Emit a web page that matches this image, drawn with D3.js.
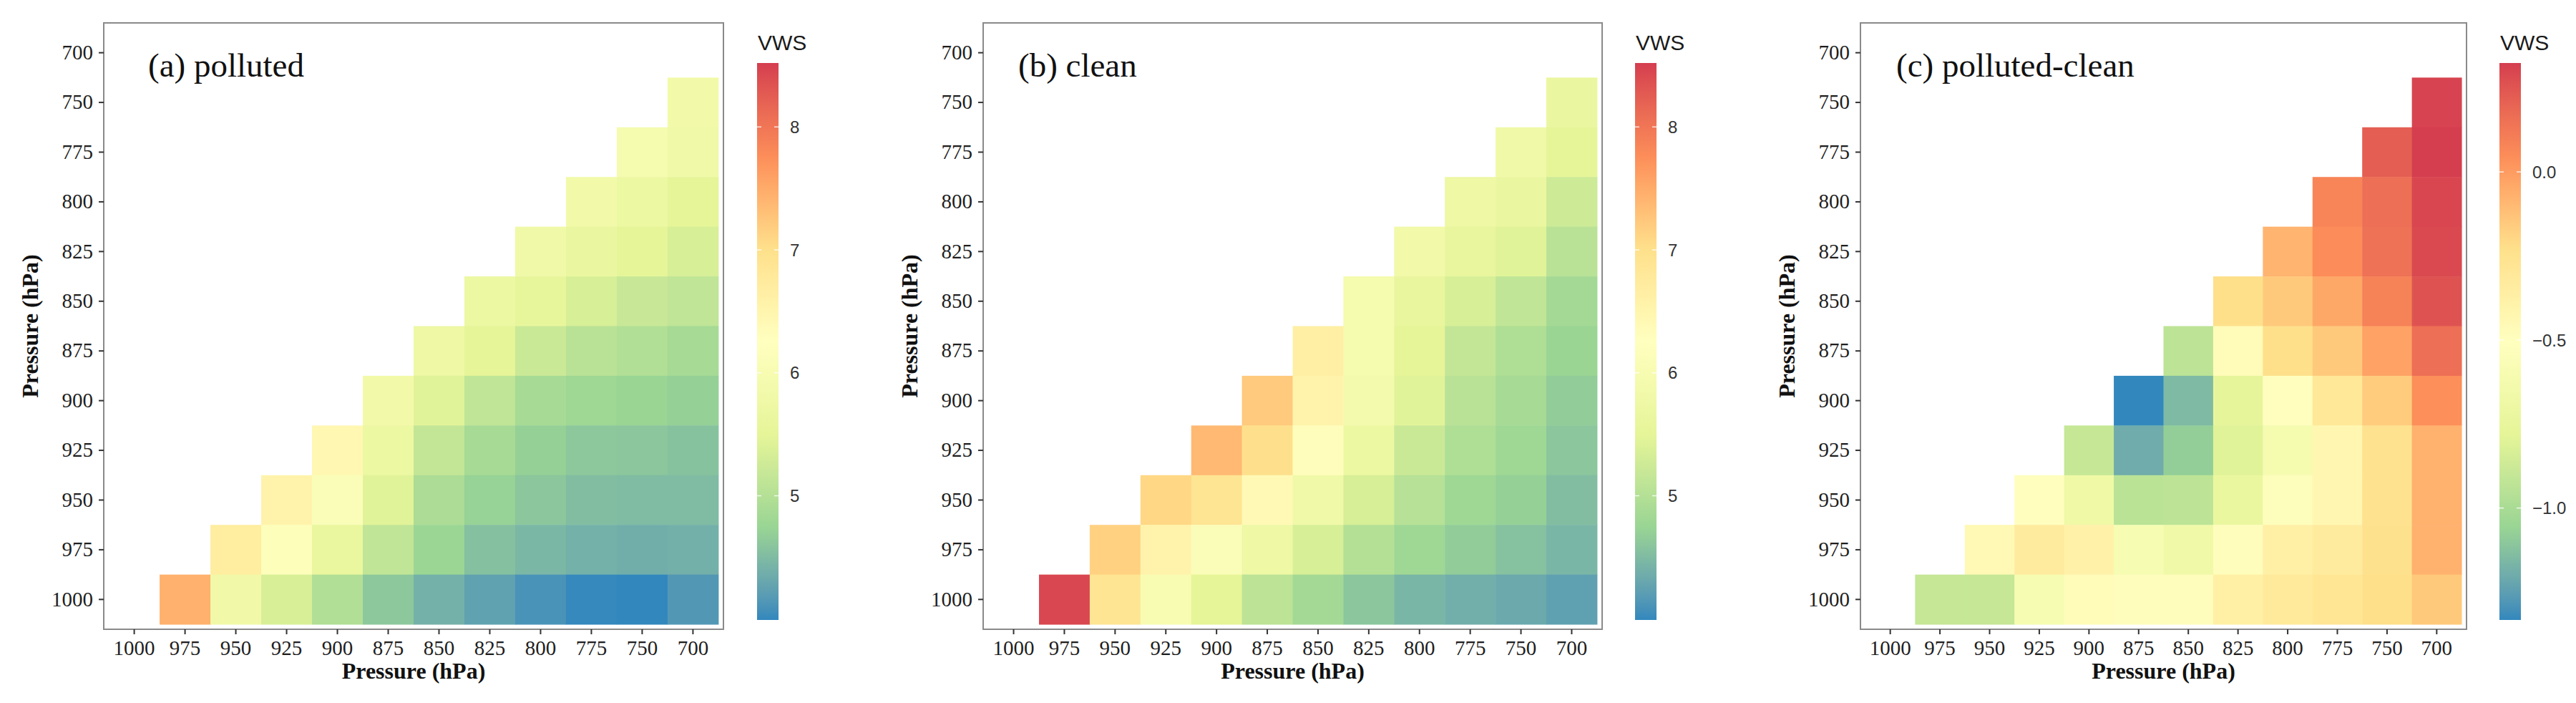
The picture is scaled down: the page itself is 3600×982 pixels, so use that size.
<!DOCTYPE html>
<html>
<head>
<meta charset="utf-8">
<script src="https://cdn.jsdelivr.net/npm/d3@7"></script>
<style>
  html, body { margin: 0; padding: 0; background: #ffffff; }
  svg { display: block; }
</style>
</head>
<body>
<svg id="chart" width="3600" height="982"></svg>
<script>
// ---------------- DATA ----------------
const yLevels = ["700","750","775","800","825","850","875","900","925","950","975","1000"];
const xLevels = ["1000","975","950","925","900","875","850","825","800","775","750","700"];
// Rows (lower level) that hold tiles, top to bottom
const rowLevels = ["750","775","800","825","850","875","900","925","950","975","1000"];

// each row lists values for the upper levels from the leftmost tile to 700 hPa
const pollutedRows = [
  [5.85],
  [5.95, 5.8],
  [5.85, 5.7, 5.5],
  [5.8, 5.65, 5.5, 5.35],
  [5.7, 5.55, 5.35, 5.2, 5.12],
  [5.75, 5.5, 5.22, 5.05, 4.97, 4.87],
  [5.85, 5.45, 5.12, 4.88, 4.8, 4.75, 4.7],
  [6.45, 5.7, 5.15, 4.87, 4.7, 4.62, 4.6, 4.57],
  [6.55, 6.1, 5.45, 4.92, 4.72, 4.6, 4.52, 4.5, 4.5],
  [6.7, 6.15, 5.62, 5.12, 4.76, 4.55, 4.46, 4.4, 4.37, 4.39],
  [7.45, 5.82, 5.36, 4.97, 4.62, 4.4, 4.25, 4.1, 4.0, 3.99, 4.15]
];
const cleanRows = [
  [5.65],
  [5.8, 5.5],
  [5.75, 5.65, 5.25],
  [5.85, 5.6, 5.45, 5.05],
  [5.95, 5.6, 5.35, 5.12, 4.85],
  [6.65, 5.95, 5.5, 5.15, 4.95, 4.75],
  [7.22, 6.55, 5.9, 5.45, 5.05, 4.87, 4.66],
  [7.37, 7.0, 6.3, 5.7, 5.22, 4.95, 4.8, 4.6],
  [7.09, 6.89, 6.4, 5.8, 5.35, 5.02, 4.8, 4.7, 4.52],
  [7.15, 6.55, 6.1, 5.75, 5.35, 5.0, 4.8, 4.66, 4.56, 4.45],
  [8.45, 6.89, 6.0, 5.5, 5.08, 4.85, 4.6, 4.45, 4.38, 4.32, 4.24]
];
const diffRows = [
  [0.31],
  [0.22, 0.324],
  [0.08, 0.16, 0.30],
  [-0.08, 0.05, 0.15, 0.29],
  [-0.23, -0.15, -0.04, 0.09, 0.26],
  [-0.93, -0.47, -0.23, -0.15, -0.02, 0.16],
  [-1.333, -1.15, -0.77, -0.5, -0.3, -0.16, 0.04],
  [-0.9, -1.2, -1.08, -0.8, -0.62, -0.43, -0.25, -0.07],
  [-0.5, -0.68, -0.94, -0.93, -0.73, -0.53, -0.43, -0.25, -0.07],
  [-0.45, -0.33, -0.38, -0.6, -0.67, -0.49, -0.37, -0.33, -0.24, -0.07],
  [-0.9, -0.9, -0.6, -0.48, -0.49, -0.49, -0.37, -0.32, -0.28, -0.23, -0.15]
];

const limitsAB = [3.99, 8.52];
const limitsC = [-1.333, 0.324];
const legendTicksAB = [5, 6, 7, 8];
const legendTicksC = [-1.0, -0.5, 0.0];
const panelTitles = ["(a) polluted", "(b) clean", "(c) polluted-clean"];
const legendTitle = "VWS";
const axisTitle = "Pressure (hPa)";
const spectral7 = ["#3288BD","#99D594","#E6F598","#FFFFBF","#FEE08B","#FC8D59","#D53E4F"];

// ---------------- LAYOUT ----------------
const panels = [
  {rows: pollutedRows, limits: limitsAB, ticks: legendTicksAB, fmt: d3.format("d"),
   left: 145, right: 1011, barLeft: 1058, titleX: 207, title: panelTitles[0]},
  {rows: cleanRows, limits: limitsAB, ticks: legendTicksAB, fmt: d3.format("d"),
   left: 1374, right: 2239, barLeft: 2285, titleX: 1423, title: panelTitles[1]},
  {rows: diffRows, limits: limitsC, ticks: legendTicksC, fmt: d3.format(".1f"),
   left: 2600, right: 3447, barLeft: 3493, titleX: 2650, title: panelTitles[2]}
];
const plotTop = 32, plotBottom = 879;
const barTop = 88, barBottom = 866, barW = 30;
const serif = "'Liberation Serif', 'Times New Roman', serif";
const sans = "'Liberation Sans', Arial, Helvetica, sans-serif";

const svg = d3.select("#chart");
svg.append("rect").attr("width", 3600).attr("height", 982).attr("fill", "#ffffff");
const defs = svg.append("defs");

function makeColor(limits) {
  const [lo, hi] = limits;
  const dom = spectral7.map((c, i) => lo + (hi - lo) * i / (spectral7.length - 1));
  return d3.scaleLinear().domain(dom).range(spectral7).interpolate(d3.interpolateLab).clamp(true);
}

panels.forEach((p, pi) => {
  const g = svg.append("g");
  const x = d3.scaleBand().domain(xLevels).range([p.left, p.right]).paddingInner(0).paddingOuter(0.1);
  const y = d3.scaleBand().domain(yLevels).range([plotTop, plotBottom]).paddingInner(0).paddingOuter(0.1);
  const color = makeColor(p.limits);

  // tiles
  const cells = [];
  p.rows.forEach((vals, ri) => {
    const startCol = xLevels.length - vals.length;
    vals.forEach((v, k) => cells.push({row: rowLevels[ri], col: xLevels[startCol + k], v}));
  });
  g.append("g").selectAll("rect").data(cells).join("rect")
    .attr("x", d => x(d.col))
    .attr("y", d => y(d.row))
    .attr("width", x.bandwidth() + 0.5)
    .attr("height", y.bandwidth() + 0.5)
    .attr("fill", d => color(d.v));

  // frame
  g.append("rect")
    .attr("x", p.left).attr("y", plotTop)
    .attr("width", p.right - p.left).attr("height", plotBottom - plotTop)
    .attr("fill", "none").attr("stroke", "#8a8a8a").attr("stroke-width", 2);

  // axes
  const yAxis = g.append("g").attr("transform", `translate(${p.left},0)`)
    .call(d3.axisLeft(y).tickSize(7).tickPadding(8));
  const xAxis = g.append("g").attr("transform", `translate(0,${plotBottom})`)
    .call(d3.axisBottom(x).tickSize(7).tickPadding(8));
  [yAxis, xAxis].forEach(a => {
    a.select(".domain").remove();
    a.selectAll(".tick line").attr("stroke", "#333333").attr("stroke-width", 2);
    a.selectAll(".tick text").attr("fill", "#1e1e1e")
      .style("font-family", serif).style("font-size", "29px");
  });

  // axis titles
  g.append("text")
    .attr("x", (p.left + p.right) / 2).attr("y", 948)
    .attr("text-anchor", "middle")
    .style("font-family", serif).style("font-size", "32px").style("font-weight", "bold")
    .attr("fill", "#111").text(axisTitle);
  g.append("text")
    .attr("transform", `translate(${p.left - 92},${(plotTop + plotBottom) / 2}) rotate(-90)`)
    .attr("text-anchor", "middle")
    .style("font-family", serif).style("font-size", "32px").style("font-weight", "bold")
    .attr("fill", "#111").text(axisTitle);

  // panel title
  g.append("text")
    .attr("x", p.titleX).attr("y", 107)
    .style("font-family", serif).style("font-size", "47px")
    .attr("fill", "#111").text(p.title);

  // colour bar
  const gradId = "grad" + pi;
  const grad = defs.append("linearGradient").attr("id", gradId)
    .attr("x1", 0).attr("y1", 1).attr("x2", 0).attr("y2", 0);
  d3.range(0, 61).forEach(i => {
    const t = i / 60;
    grad.append("stop").attr("offset", t)
      .attr("stop-color", color(p.limits[0] + t * (p.limits[1] - p.limits[0])));
  });
  g.append("rect")
    .attr("x", p.barLeft).attr("y", barTop)
    .attr("width", barW).attr("height", barBottom - barTop)
    .attr("fill", `url(#${gradId})`);
  const ly = d3.scaleLinear().domain(p.limits).range([barBottom, barTop]);
  const lt = g.append("g");
  p.ticks.forEach(t => {
    lt.append("line").attr("x1", p.barLeft).attr("x2", p.barLeft + 6)
      .attr("y1", ly(t)).attr("y2", ly(t)).attr("stroke", "#ffffff").attr("stroke-opacity", 0.8).attr("stroke-width", 1.5);
    lt.append("line").attr("x1", p.barLeft + barW - 6).attr("x2", p.barLeft + barW)
      .attr("y1", ly(t)).attr("y2", ly(t)).attr("stroke", "#ffffff").attr("stroke-opacity", 0.8).attr("stroke-width", 1.5);
    lt.append("text").attr("x", p.barLeft + barW + 16).attr("y", ly(t))
      .attr("dy", "0.36em")
      .style("font-family", sans).style("font-size", "24px")
      .attr("fill", "#333333").text(p.fmt(t));
  });
  g.append("text").attr("x", p.barLeft + 1).attr("y", 70)
    .style("font-family", sans).style("font-size", "30px")
    .attr("fill", "#1a1a1a").text(legendTitle);
});
</script>
</body>
</html>
